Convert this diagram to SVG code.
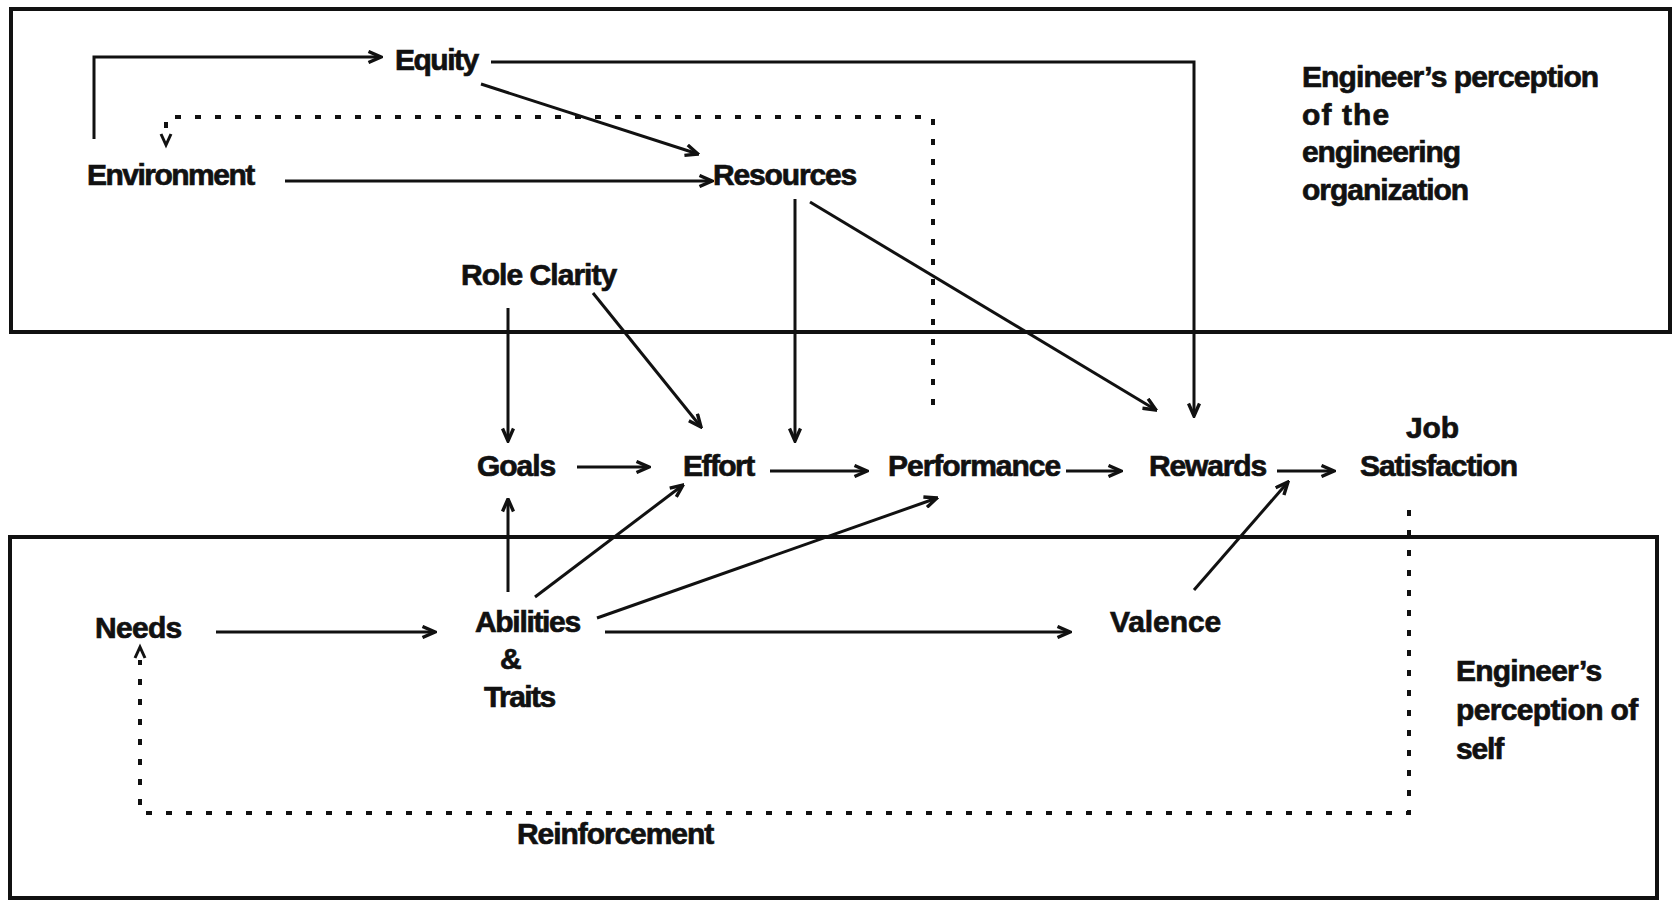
<svg xmlns="http://www.w3.org/2000/svg" width="1674" height="904" viewBox="0 0 1674 904">
<style>
.t{font-family:"Liberation Sans",Arial,sans-serif;font-weight:bold;font-size:30px;fill:#111;stroke:#111;stroke-width:0.7;letter-spacing:-1.2px}
.box{fill:none;stroke:#111;stroke-width:4}
.c{fill:none;stroke:#111;stroke-width:3}
.d{fill:none;stroke:#111;stroke-width:4;stroke-dasharray:6 14}
</style>
<defs>
<marker id="ah" viewBox="0 0 16 14" markerWidth="16" markerHeight="14" refX="14.5" refY="7" orient="auto" markerUnits="userSpaceOnUse">
<path d="M2,1.5 L14.5,7 L2,12.5" fill="none" stroke="#111" stroke-width="3.4" stroke-linejoin="miter"/>
</marker>
</defs>
<rect width="1674" height="904" fill="#fff"/>
<g id="frames">
<rect class="box" x="11" y="9" width="1659" height="323"/>
<rect class="box" x="10" y="537" width="1647" height="361"/>
</g>
<g id="connectors">
<polyline class="c" points="94,139 94,57 381,57" marker-end="url(#ah)"/>
<line class="c" x1="481" y1="84" x2="698" y2="154" marker-end="url(#ah)"/>
<polyline class="c" points="491,62 1194,62 1194,416" marker-end="url(#ah)"/>
<line class="c" x1="285" y1="181" x2="712" y2="181" marker-end="url(#ah)"/>
<polyline class="d" points="933,405 933,117 166,117 166,132"/>
<path d="M161,134 L166,145 L171,134" fill="none" stroke="#111" stroke-width="3"/>
<line class="c" x1="508" y1="308" x2="508" y2="441" marker-end="url(#ah)"/>
<line class="c" x1="593" y1="293" x2="701" y2="427" marker-end="url(#ah)"/>
<line class="c" x1="795" y1="199" x2="795" y2="441" marker-end="url(#ah)"/>
<line class="c" x1="810" y1="202" x2="1156" y2="410" marker-end="url(#ah)"/>
<line class="c" x1="577" y1="467" x2="649" y2="467" marker-end="url(#ah)"/>
<line class="c" x1="770" y1="471" x2="867" y2="471" marker-end="url(#ah)"/>
<line class="c" x1="1066" y1="471" x2="1121" y2="471" marker-end="url(#ah)"/>
<line class="c" x1="1277" y1="471" x2="1334" y2="471" marker-end="url(#ah)"/>
<line class="c" x1="508" y1="592" x2="508" y2="499" marker-end="url(#ah)"/>
<line class="c" x1="535" y1="597" x2="683" y2="485" marker-end="url(#ah)"/>
<line class="c" x1="597" y1="618" x2="937" y2="498" marker-end="url(#ah)"/>
<line class="c" x1="216" y1="632" x2="435" y2="632" marker-end="url(#ah)"/>
<line class="c" x1="605" y1="632" x2="1070" y2="632" marker-end="url(#ah)"/>
<line class="c" x1="1194" y1="590" x2="1288" y2="482" marker-end="url(#ah)"/>
<polyline class="d" points="1409,510 1409,813 140,813 140,660"/>
<path d="M135,658 L140,647 L145,658" fill="none" stroke="#111" stroke-width="3"/>
</g>
<g id="n-equity"><text class="t" x="395" y="70" textLength="83">Equity</text></g>
<g id="n-environment"><text class="t" x="87" y="185" textLength="167">Environment</text></g>
<g id="n-resources"><text class="t" x="713" y="185" textLength="143">Resources</text></g>
<g id="n-roleclarity"><text class="t" x="461" y="285" textLength="155">Role Clarity</text></g>
<g id="n-goals"><text class="t" x="477" y="476" textLength="78">Goals</text></g>
<g id="n-effort"><text class="t" x="683" y="476" textLength="71">Effort</text></g>
<g id="n-performance"><text class="t" x="888" y="476" textLength="172">Performance</text></g>
<g id="n-rewards"><text class="t" x="1149" y="476" textLength="117">Rewards</text></g>
<g id="n-jobsatisfaction"><text class="t" x="1406" y="438" textLength="52">Job</text><text class="t" x="1360" y="476" textLength="157">Satisfaction</text></g>
<g id="n-needs"><text class="t" x="95" y="638" textLength="86">Needs</text></g>
<g id="n-abilities"><text class="t" x="475" y="632" textLength="105">Abilities</text><text class="t" x="500" y="669">&amp;</text><text class="t" x="484" y="707" textLength="71">Traits</text></g>
<g id="n-valence"><text class="t" x="1110" y="632" textLength="110">Valence</text></g>
<g id="n-reinforcement"><text class="t" x="517" y="844" textLength="196">Reinforcement</text></g>
<g id="l-organization"><text class="t" x="1302" y="87" textLength="296">Engineer’s perception</text><text class="t" x="1302" y="125" textLength="86">of  the</text><text class="t" x="1302" y="162" textLength="158">engineering</text><text class="t" x="1302" y="200" textLength="166">organization</text></g>
<g id="l-self"><text class="t" x="1456" y="681" textLength="145">Engineer’s</text><text class="t" x="1456" y="720" textLength="181">perception of</text><text class="t" x="1456" y="759" textLength="47">self</text></g>
</svg>
